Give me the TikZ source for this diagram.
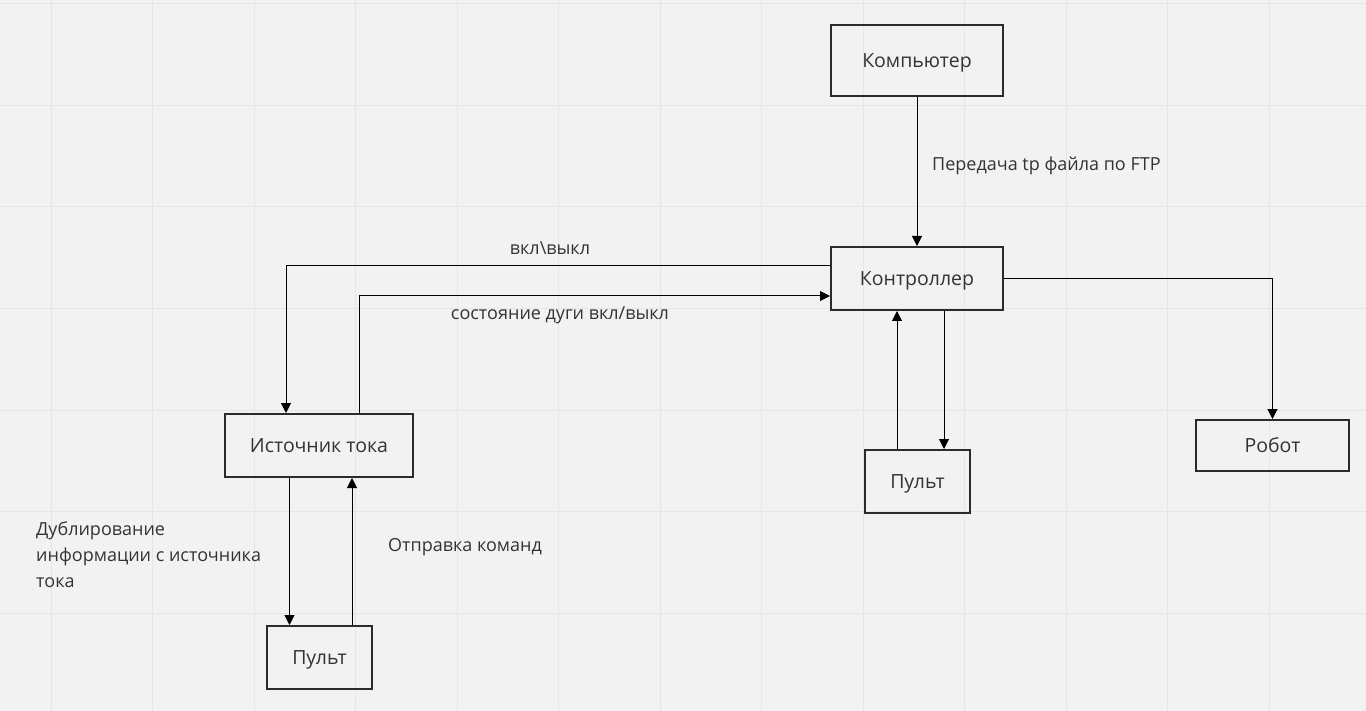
\documentclass[tikz,border=0pt]{standalone}
\usepackage{fontspec}
\setmainfont{Open Sans}
\usetikzlibrary{arrows.meta,calc}
\definecolor{bgc}{HTML}{F2F2F2}
\definecolor{gridc}{HTML}{E6E6E6}
\definecolor{txt}{HTML}{333333}
\definecolor{brd}{HTML}{2B2B2B}
\tikzset{
  box/.style={draw=brd,line width=2pt,rectangle,inner sep=0pt,text depth=0pt,text=txt,font=\fontsize{19.5}{23}\selectfont},
  arr/.style={draw=black,line width=1pt,-{Triangle[length=10pt,width=10pt]}},
  lbl/.style={text=txt,font=\fontsize{18}{26}\selectfont,inner sep=0pt}
}
\begin{document}
\begin{tikzpicture}[x=1pt,y=-1pt]
\useasboundingbox (0,0) rectangle (1366,711);
\fill[bgc] (0,0) rectangle (1366,711);
\foreach \gx in {51,152.5,254,355.5,457,558.5,660,761.5,863,964.5,1066,1167.5,1269}
  \draw[gridc,line width=1pt] (\gx,0) -- (\gx,711);
\foreach \gy in {4,105.5,207,308.5,410,511.5,613}
  \draw[gridc,line width=1pt] (0,\gy) -- (1366,\gy);

\node[box,minimum width=172pt,minimum height=71pt] (pc) at (917,60.5) {Компьютер};
\node[box,minimum width=172pt,minimum height=63pt] (ctl) at (917,278.5) {Контроллер};
\node[box,minimum width=188pt,minimum height=63pt] (src) at (319,445.5) {Источник тока};
\node[box,minimum width=105pt,minimum height=63pt] (p2) at (917.5,481.5) {Пульт};
\node[box,minimum width=153pt,minimum height=51pt] (rob) at (1272.5,445.5) {Робот};
\node[box,minimum width=105pt,minimum height=63pt] (p1) at (319.5,657.5) {Пульт};

\draw[arr] (pc.south) -- (ctl.north);
\draw[arr] ([yshift=12.5pt]ctl.west) -| ([xshift=-33pt]src.north);
\draw[arr] ([xshift=40pt]src.north) |- ([yshift=-17.5pt]ctl.west);
\draw[arr] (ctl.east) -| (rob.north);
\draw[arr] ([xshift=-20.5pt]p2.north) -- ([xshift=-20.5pt]p2.north |- ctl.south);
\draw[arr] ([xshift=26.5pt]p2.north |- ctl.south) -- ([xshift=26.5pt]p2.north);
\draw[arr] ([xshift=-29.5pt]src.south) -- ([xshift=-29.5pt]src.south |- p1.north);
\draw[arr] ([xshift=32.5pt]p1.north) -- ([xshift=32.5pt]p1.north |- src.south);

\node[lbl,anchor=west] (l1) at (932,165.5) {Передача tp файла по FTP};
\node[lbl] (l2) at (550,248) {вкл\textbackslash выкл};
\node[lbl] (l3) at (560,315.5) {состояние дуги вкл/выкл};
\node[lbl,anchor=west] (l4) at (388,547) {Отправка команд};
\node[lbl,anchor=west,align=left] (l5) at (36,555) {Дублирование\\информации с источника\\тока};
\end{tikzpicture}
\end{document}
